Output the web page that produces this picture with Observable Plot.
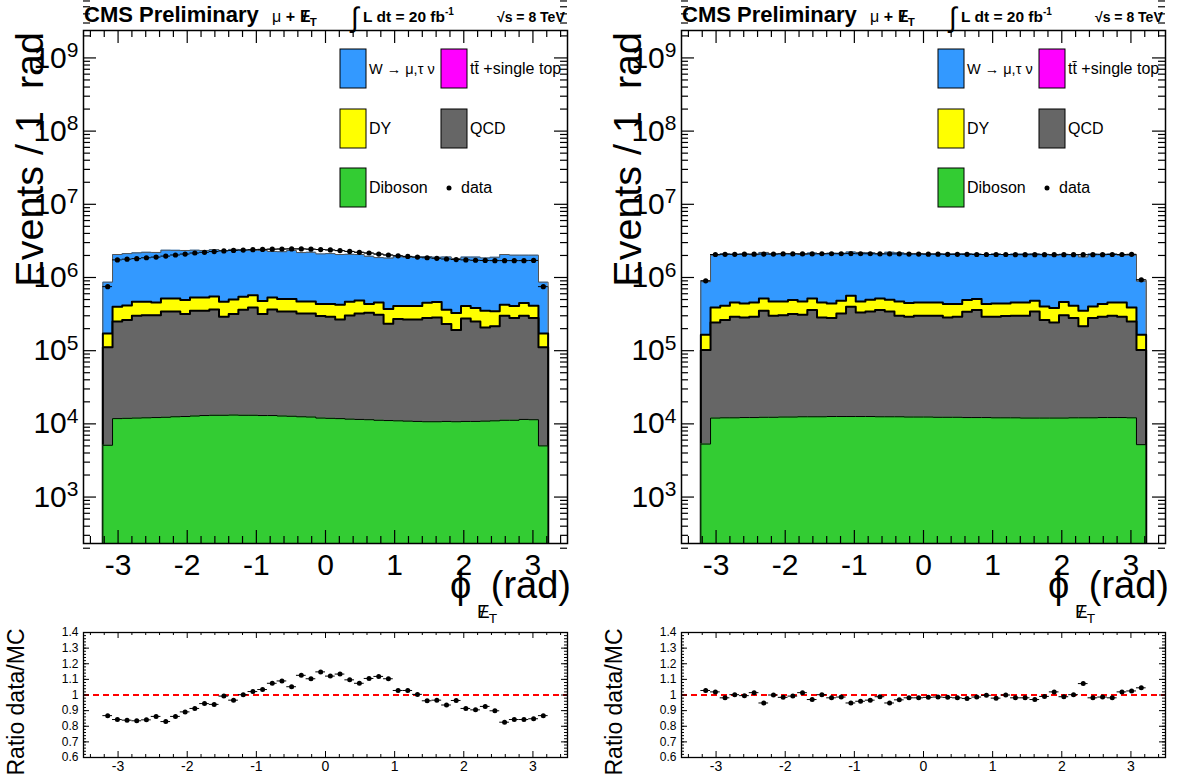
<!DOCTYPE html>
<html><head><meta charset="utf-8">
<script src="https://cdn.jsdelivr.net/npm/d3@7"></script>
<script src="https://cdn.jsdelivr.net/npm/@observablehq/plot@0.6"></script>
<style>
html,body{margin:0;padding:0;background:#fff;}
#root{position:relative;width:1191px;height:778px;overflow:hidden;background:#fff;font-family:"Liberation Sans",Arial,Helvetica,sans-serif;}
#root svg{position:absolute;}
</style></head><body><div id="root"></div>
<script>
// ---------- bins (phi of missing ET, rad) ----------
const binCenters = [-3.15,-3.01,-2.87,-2.73,-2.59,-2.45,-2.31,-2.17,-2.03,-1.89,-1.75,-1.61,-1.47,-1.33,-1.19,-1.05,-0.91,-0.77,-0.63,-0.49,-0.35,-0.21,-0.07,0.07,0.21,0.35,0.49,0.63,0.77,0.91,1.05,1.19,1.33,1.47,1.61,1.75,1.89,2.03,2.17,2.31,2.45,2.59,2.73,2.87,3.01,3.15];
const halfBin = 0.07;

// ---------- LEFT panel: stacked heights (events / bin, cumulative from bottom) ----------
const leftDiboson = [5.1e3,1.18e4,1.19e4,1.20e4,1.21e4,1.22e4,1.23e4,1.25e4,1.26e4,1.28e4,1.30e4,1.31e4,1.31e4,1.32e4,1.31e4,1.31e4,1.30e4,1.30e4,1.28e4,1.27e4,1.25e4,1.24e4,1.20e4,1.19e4,1.18e4,1.16e4,1.15e4,1.14e4,1.12e4,1.11e4,1.10e4,1.09e4,1.08e4,1.07e4,1.07e4,1.08e4,1.07e4,1.08e4,1.08e4,1.09e4,1.10e4,1.12e4,1.12e4,1.15e4,1.14e4,5.0e3];
const leftQCDStack = [1.11e5,2.51e5,2.62e5,3.00e5,3.06e5,3.06e5,3.44e5,3.44e5,3.16e5,3.51e5,3.51e5,3.66e5,2.91e5,3.16e5,3.62e5,3.90e5,3.16e5,3.66e5,3.44e5,3.44e5,3.23e5,3.23e5,2.97e5,2.91e5,2.67e5,3.03e5,3.23e5,3.30e5,3.10e5,2.34e5,2.70e5,2.67e5,2.67e5,2.79e5,2.85e5,2.31e5,1.91e5,2.76e5,2.51e5,2.08e5,2.15e5,3.00e5,2.79e5,3.00e5,2.79e5,1.11e5];
const leftDYStack = [1.72e5,3.98e5,4.15e5,4.66e5,4.66e5,4.56e5,5.17e5,5.17e5,4.91e5,5.34e5,5.34e5,5.51e5,4.66e5,5.01e5,5.45e5,5.74e5,4.76e5,5.34e5,5.07e5,5.07e5,4.71e5,4.71e5,4.33e5,4.33e5,4.24e5,4.66e5,4.86e5,4.33e5,4.56e5,3.70e5,4.07e5,4.07e5,4.07e5,4.52e5,4.61e5,3.62e5,3.26e5,4.07e5,3.82e5,3.51e5,3.47e5,4.24e5,4.07e5,4.47e5,4.11e5,1.72e5];
const leftMCTotal = [8.64e5,2.06e6,2.12e6,2.17e6,2.21e6,2.20e6,2.36e6,2.35e6,2.34e6,2.36e6,2.34e6,2.40e6,2.33e6,2.42e6,2.37e6,2.35e6,2.34e6,2.27e6,2.25e6,2.34e6,2.19e6,2.21e6,2.10e6,2.12e6,2.06e6,2.07e6,2.06e6,1.95e6,1.87e6,1.84e6,1.92e6,1.89e6,1.89e6,1.93e6,1.89e6,1.91e6,1.82e6,1.90e6,1.90e6,1.85e6,1.89e6,2.06e6,2.02e6,2.02e6,2.02e6,8.64e5];
const leftData = [7.5e5,1.74e6,1.78e6,1.81e6,1.86e6,1.90e6,1.96e6,2.03e6,2.09e6,2.16e6,2.21e6,2.26e6,2.31e6,2.34e6,2.37e6,2.40e6,2.42e6,2.44e6,2.45e6,2.46e6,2.46e6,2.44e6,2.41e6,2.38e6,2.33e6,2.27e6,2.21e6,2.16e6,2.09e6,2.03e6,1.98e6,1.94e6,1.90e6,1.86e6,1.83e6,1.79e6,1.76e6,1.74e6,1.72e6,1.71e6,1.70e6,1.70e6,1.70e6,1.70e6,1.71e6,7.5e5];
const leftRatio = [0.868,0.843,0.839,0.835,0.841,0.863,0.830,0.863,0.892,0.914,0.945,0.940,0.993,0.967,1.002,1.022,1.035,1.075,1.090,1.053,1.126,1.104,1.148,1.121,1.134,1.097,1.075,1.106,1.119,1.104,1.029,1.029,1.004,0.963,0.967,0.936,0.965,0.914,0.905,0.927,0.899,0.826,0.843,0.843,0.848,0.868];

// ---------- RIGHT panel ----------
const rightDiboson = [5.3e3,1.20e4,1.21e4,1.21e4,1.22e4,1.22e4,1.23e4,1.23e4,1.24e4,1.24e4,1.25e4,1.25e4,1.25e4,1.26e4,1.26e4,1.26e4,1.26e4,1.26e4,1.25e4,1.25e4,1.25e4,1.24e4,1.24e4,1.24e4,1.23e4,1.23e4,1.23e4,1.22e4,1.22e4,1.22e4,1.21e4,1.21e4,1.21e4,1.20e4,1.20e4,1.20e4,1.20e4,1.20e4,1.21e4,1.21e4,1.21e4,1.22e4,1.22e4,1.22e4,1.21e4,5.2e3];
const rightQCDStack = [1.02e5,2.43e5,2.62e5,2.91e5,2.85e5,2.91e5,3.51e5,3.00e5,3.06e5,3.16e5,3.10e5,3.59e5,2.85e5,2.79e5,3.23e5,3.98e5,3.33e5,3.44e5,3.59e5,3.44e5,3.00e5,2.91e5,3.00e5,3.00e5,3.00e5,2.85e5,2.91e5,3.40e5,3.59e5,2.91e5,2.91e5,2.97e5,3.00e5,3.00e5,3.44e5,2.62e5,2.43e5,3.06e5,2.79e5,2.15e5,2.79e5,2.91e5,3.00e5,2.91e5,2.51e5,1.02e5];
const rightDYStack = [1.65e5,3.90e5,4.11e5,4.56e5,4.42e5,4.56e5,5.17e5,4.71e5,4.71e5,4.91e5,4.71e5,5.17e5,4.56e5,4.42e5,4.81e5,5.62e5,4.71e5,4.96e5,5.17e5,4.96e5,4.71e5,4.47e5,4.56e5,4.56e5,4.56e5,4.33e5,4.33e5,4.91e5,5.07e5,4.33e5,4.42e5,4.42e5,4.56e5,4.56e5,4.81e5,4.02e5,3.82e5,4.61e5,4.11e5,3.51e5,4.02e5,4.33e5,4.56e5,4.56e5,3.90e5,1.65e5];
const rightMCTotal = [8.75e5,2.02e6,2.11e6,2.07e6,2.09e6,2.05e6,2.20e6,2.09e6,2.13e6,2.12e6,2.07e6,2.16e6,2.11e6,2.15e6,2.14e6,2.23e6,2.20e6,2.18e6,2.12e6,2.21e6,2.17e6,2.13e6,2.13e6,2.11e6,2.11e6,2.10e6,2.11e6,2.12e6,2.09e6,2.06e6,2.10e6,2.06e6,2.09e6,2.09e6,2.11e6,2.07e6,2.01e6,2.07e6,2.05e6,1.91e6,2.09e6,2.08e6,2.10e6,2.02e6,2.02e6,8.89e5];
const rightData = [9.0e5,2.06e6,2.07e6,2.07e6,2.08e6,2.08e6,2.09e6,2.09e6,2.10e6,2.10e6,2.10e6,2.10e6,2.11e6,2.11e6,2.11e6,2.12e6,2.11e6,2.11e6,2.10e6,2.10e6,2.10e6,2.09e6,2.09e6,2.08e6,2.08e6,2.07e6,2.07e6,2.07e6,2.06e6,2.06e6,2.06e6,2.06e6,2.05e6,2.05e6,2.05e6,2.05e6,2.05e6,2.05e6,2.05e6,2.05e6,2.05e6,2.05e6,2.06e6,2.06e6,2.07e6,9.3e5];
const rightRatio = [1.029,1.020,0.982,1.002,0.996,1.015,0.949,1.000,0.985,0.993,1.015,0.971,1.002,0.982,0.987,0.949,0.960,0.967,0.989,0.949,0.969,0.982,0.982,0.985,0.987,0.985,0.982,0.978,0.987,0.998,0.980,1.000,0.982,0.982,0.971,0.991,1.020,0.989,1.002,1.073,0.982,0.987,0.982,1.020,1.026,1.046];

// ---------- ticks / labels ----------
const xMajorTicks = [-3,-2,-1,0,1,2,3];
const yMajorTicks = [1e3,1e4,1e5,1e6,1e7,1e8,1e9];
const ratioTicks = [0.6,0.7,0.8,0.9,1,1.1,1.2,1.3,1.4];
const legendLabels = ["W \u2192 \u03BC,\u03C4 \u03BD", "tt\u0304 +single top", "DY", "QCD", "Diboson", "data"];

const FONT = '"Liberation Sans", Arial, Helvetica, sans-serif';
const COL = {W:"#3399ff", tt:"#ff00ff", DY:"#ffff00", QCD:"#666666", VV:"#33cc33"};
const FLOOR = 1;
const root = document.getElementById("root");

const xMinorTicks = d3.range(-34, 35, 2).map(d => d/10).filter(d => !Number.isInteger(d));
const yMinorTicks = [];
for (let e = 2; e <= 9; e++) for (let m = 2; m <= 9; m++) yMinorTicks.push(m * Math.pow(10, e));
const ratioMinor = d3.range(60, 141, 2).map(d => d/100);

function place(svg, left, top) { svg.style.left = left + "px"; svg.style.top = top + "px"; root.appendChild(svg); }

function superscriptTicks(svg) {
  d3.select(svg).selectAll("text").each(function() {
    const t = this.textContent;
    if (t.startsWith("10^")) {
      const e = t.slice(3);
      const s = d3.select(this); s.text(null);
      s.append("tspan").text("10");
      s.append("tspan").attr("dy", "-0.5em").attr("font-size", "0.7em").text(e);
    }
  });
}

// inward tick marks on the four sides of a frame of size fw x fh
function frameTicks(xMaj, xMin, yMaj, yMin, fw, fh, lMaj, lMin, sw) {
  const o = {stroke: "black", strokeWidth: sw};
  return [
    Plot.tickX(xMaj, {x: d => d, insetTop: fh - lMaj, ...o}),
    Plot.tickX(xMin, {x: d => d, insetTop: fh - lMin, ...o}),
    Plot.tickX(xMaj, {x: d => d, insetBottom: fh - lMaj, ...o}),
    Plot.tickX(xMin, {x: d => d, insetBottom: fh - lMin, ...o}),
    Plot.tickY(yMaj, {y: d => d, insetRight: fw - lMaj, ...o}),
    Plot.tickY(yMin, {y: d => d, insetRight: fw - lMin, ...o}),
    Plot.tickY(yMaj, {y: d => d, insetLeft: fw - lMaj, ...o}),
    Plot.tickY(yMin, {y: d => d, insetLeft: fw - lMin, ...o})
  ];
}

function mainPanel(p) {
  const bins = binCenters.map((c, i) => ({xc: c, x0: c - halfBin, x1: c + halfBin,
    vv: p.vv[i], qcd: p.qcd[i], dy: p.dy[i], mc: p.mc[i], data: p.data[i]}));
  const steps = key => {
    const pts = [{x: bins[0].x0, y: FLOOR}];
    for (const b of bins) pts.push({x: b.x0, y: b[key]});
    const last = bins[bins.length - 1];
    pts.push({x: last.x1, y: last[key]}, {x: last.x1, y: FLOOR});
    return pts;
  };
  const layer = (key, fill, stroke, sw) => [
    Plot.areaY(steps(key), {x: "x", y1: FLOOR, y2: "y", curve: "step-after", fill, clip: true}),
    Plot.line(steps(key), {x: "x", y: "y", curve: "step-after", stroke, strokeWidth: sw, clip: true})
  ];
  const svg = Plot.plot({
    width: 595, height: 620, marginLeft: 83, marginRight: 28, marginTop: 30, marginBottom: 77,
    style: {fontFamily: FONT, color: "black", background: "transparent", overflow: "visible"},
    x: {domain: [-3.5, 3.5]},
    y: {type: "log", domain: [232, 2.37e9]},
    marks: [
      Plot.line(steps("data"), {x: "x", y: "y", curve: "step-after", stroke: "#333", strokeWidth: 1, clip: true}),
      ...layer("mc", COL.W, "#555", 1),
      ...layer("dy", COL.DY, "black", 2),
      ...layer("qcd", COL.QCD, "black", 2),
      ...layer("vv", COL.VV, "black", 1),
      Plot.ruleY(bins, {y: "data", x1: "x0", x2: "x1", stroke: "black", strokeWidth: 1}),
      Plot.dot(bins, {x: "xc", y: "data", r: 2.6, fill: "black"}),
      ...frameTicks(xMajorTicks, xMinorTicks, yMajorTicks, yMinorTicks, 484, 513, 13, 7, 1.2),
      Plot.frame({stroke: "black", strokeWidth: 1.5}),
      Plot.axisX(xMajorTicks, {anchor: "bottom", tickSize: 0, tickPadding: 10, fontSize: 30, tickFormat: d => String(d), label: null}),
      Plot.axisY(yMajorTicks, {anchor: "left", tickSize: 0, tickPadding: 5, fontSize: 30, tickFormat: d => "10^" + Math.round(Math.log10(d)), label: null})
    ]
  });
  superscriptTicks(svg);
  return svg;
}

function ratioPanel(ratio) {
  const pts = binCenters.map((c, i) => ({xc: c, x0: c - halfBin, x1: c + halfBin, r: ratio[i]}));
  return Plot.plot({
    width: 595, height: 159, marginLeft: 83, marginRight: 28, marginTop: 13, marginBottom: 21,
    style: {fontFamily: FONT, color: "black", background: "transparent", overflow: "visible"},
    x: {domain: [-3.5, 3.5]},
    y: {domain: [0.6, 1.4]},
    marks: [
      Plot.ruleY([1], {stroke: "#ff0000", strokeWidth: 2, strokeDasharray: "6,4"}),
      Plot.ruleY(pts, {y: "r", x1: "x0", x2: "x1", stroke: "black", strokeWidth: 1}),
      Plot.dot(pts, {x: "xc", y: "r", r: 2.5, fill: "black"}),
      ...frameTicks(xMajorTicks, xMinorTicks, ratioTicks, ratioMinor, 484, 125, 6, 3, 1),
      Plot.frame({stroke: "black", strokeWidth: 1.3}),
      Plot.axisX(xMajorTicks, {anchor: "bottom", tickSize: 0, tickPadding: 4, fontSize: 14, tickFormat: d => String(d), label: null}),
      Plot.axisY(ratioTicks, {anchor: "left", tickSize: 0, tickPadding: 5, fontSize: 12, tickFormat: d => String(+d.toFixed(1)), label: null})
    ]
  });
}

const panels = [
  {ox: 0, vv: leftDiboson, qcd: leftQCDStack, dy: leftDYStack, mc: leftMCTotal, data: leftData, ratio: leftRatio},
  {ox: 598, vv: rightDiboson, qcd: rightQCDStack, dy: rightDYStack, mc: rightMCTotal, data: rightData, ratio: rightRatio}
];
for (const p of panels) {
  place(mainPanel(p), p.ox, 0);
  place(ratioPanel(p.ratio), p.ox, 619);
}

// ---------- overlay: header texts, legends, axis titles ----------
const ov = d3.create("svg").attr("width", 1191).attr("height", 778)
  .style("left", "0px").style("top", "0px").style("pointer-events", "none")
  .attr("font-family", FONT).attr("fill", "black");
root.appendChild(ov.node());

function slashedE(textSel, size) {
  // E with a slash drawn through it, followed by subscript T
  textSel.append("tspan").text("E");
  textSel.append("tspan").attr("dx", -0.5 * size).text("/");
  textSel.append("tspan").attr("dx", 0.17 * size).attr("font-size", size * 0.72).attr("dy", size * 0.25).text("T");
}

for (const p of panels) {
  const g = ov.append("g").attr("transform", `translate(${p.ox},0)`);
  g.append("text").attr("x", 84).attr("y", 22).attr("font-size", 22).attr("font-weight", "bold").text("CMS Preliminary");
  const t2 = g.append("text").attr("x", 272).attr("y", 22).attr("font-size", 16);
  t2.append("tspan").text("\u03BC ");
  t2.append("tspan").attr("font-weight", "bold").text("+ ");
  const t2e = g.append("text").attr("x", 300).attr("y", 22).attr("font-size", 16).attr("font-weight", "bold");
  slashedE(t2e, 16);
  g.append("text").attr("x", 351).attr("y", 27).attr("font-size", 28).text("\u222B");
  const t3 = g.append("text").attr("x", 363).attr("y", 22).attr("font-size", 15.5).attr("font-weight", "bold");
  t3.append("tspan").text("L dt = 20 fb");
  t3.append("tspan").attr("font-size", 10).attr("dy", -7).text("-1");
  g.append("text").attr("x", 497).attr("y", 22).attr("font-size", 14).attr("font-weight", "bold").text("\u221As = 8 TeV");

  // legend
  const entries = [
    {x: 340, y: 49, c: COL.W, label: legendLabels[0], fs: 14.5},
    {x: 441, y: 49, c: COL.tt, label: legendLabels[1], fs: 16},
    {x: 340, y: 109, c: COL.DY, label: legendLabels[2], fs: 16},
    {x: 441, y: 109, c: COL.QCD, label: legendLabels[3], fs: 16},
    {x: 340, y: 168, c: COL.VV, label: legendLabels[4], fs: 16}
  ];
  for (const e of entries) {
    g.append("rect").attr("x", e.x).attr("y", e.y).attr("width", 26).attr("height", 39)
      .attr("fill", e.c).attr("stroke", "black").attr("stroke-width", 1);
    g.append("text").attr("x", e.x + 29).attr("y", e.y + 25).attr("font-size", e.fs).text(e.label);
  }
  g.append("circle").attr("cx", 449).attr("cy", 188).attr("r", 2.5).attr("fill", "black");
  g.append("text").attr("x", 461).attr("y", 193).attr("font-size", 16).text(legendLabels[5]);

  // y title
  g.append("text").attr("transform", "translate(43,32) rotate(-90)").attr("text-anchor", "end")
    .attr("font-size", 39.5).style("white-space", "pre").text("Events / 1  rad");
  // x title
  g.append("text").attr("x", 450).attr("y", 598).attr("font-size", 38).text("\u03D5");
  g.append("text").attr("x", 571).attr("y", 598).attr("text-anchor", "end").attr("font-size", 38).text("(rad)");
  const sub = g.append("text").attr("x", 477).attr("y", 618).attr("font-size", 19);
  slashedE(sub, 19);
  // ratio title
  g.append("text").attr("transform", "translate(24,702) rotate(-90)").attr("text-anchor", "middle")
    .attr("font-size", 23).text("Ratio data/MC");
}
</script></body></html>
